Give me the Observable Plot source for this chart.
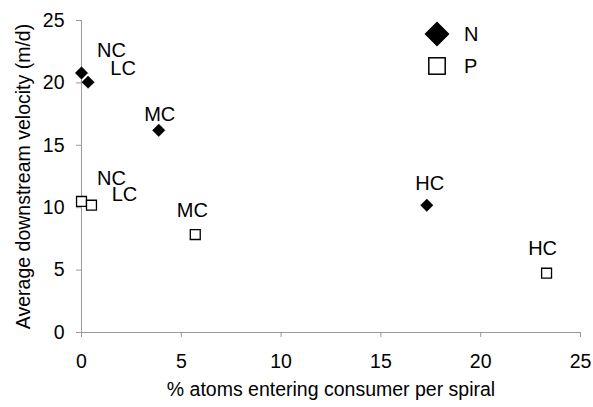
<!DOCTYPE html>
<html>
<head>
<meta charset="utf-8">
<script src="https://cdn.jsdelivr.net/npm/d3@7"></script>
<script src="https://cdn.jsdelivr.net/npm/@observablehq/plot@0.6"></script>
<style>
  html, body { margin: 0; padding: 0; background: #fff; }
  #wrap { position: relative; width: 593px; height: 407px; font-family: "Liberation Sans", Arial, sans-serif; }
  #legend { position: absolute; left: 0; top: 0; pointer-events: none; }
</style>
</head>
<body>
<div id="wrap"></div>
<script>
// ---- data ----
const seriesNames = ["N", "P"];
const nX = [0, 0.33, 3.87, 17.3];
const nY = [20.8, 20.06, 16.2, 10.2];
const nLabels = ["NC", "LC", "MC", "HC"];
const pX = [0, 0.5, 5.7, 23.3];
const pY = [10.5, 10.2, 7.85, 4.75];
const pLabels = ["NC", "LC", "MC", "HC"];
const xTicks = [0, 5, 10, 15, 20, 25];
const yTicks = [0, 5, 10, 15, 20, 25];
const xTitle = "% atoms entering consumer per spiral";
const yTitle = "Average downstream velocity (m/d)";

// ---- layout (label offsets in px, not data) ----
const labelOffsets = {
  N: {NC: [30, -22], LC: [35, -14], MC: [1, -16], HC: [3, -22]},
  P: {NC: [30, -23], LC: [33, -11], MC: [-3, -24], HC: [-4, -25]}
};

const nData = nX.map((x, i) => ({x, y: nY[i], label: nLabels[i], s: "N"}));
const pData = pX.map((x, i) => ({x, y: pY[i], label: pLabels[i], s: "P"}));
const withOff = d => ({...d, dx: labelOffsets[d.s][d.label][0], dy: labelOffsets[d.s][d.label][1]});

const labelMarks = [...nData, ...pData].map(withOff).map(d =>
  Plot.text([d], {x: "x", y: "y", text: "label", dx: d.dx, dy: d.dy, fontSize: 20, fill: "#000", textAnchor: "middle"})
);

const axisColor = "#9a9a9a";
const chart = Plot.plot({
  width: 593,
  height: 407,
  marginLeft: 81,
  marginRight: 13,
  marginTop: 20,
  marginBottom: 75,
  style: {fontFamily: "'Liberation Sans', Arial, sans-serif", background: "#fff", overflow: "visible"},
  x: {domain: [0, 25], ticks: xTicks},
  y: {domain: [0, 25], ticks: yTicks},
  marks: [
    Plot.axisX({ticks: xTicks, tickSize: 5, tickPadding: 17, fontSize: 19.5, stroke: axisColor, fill: "#000", label: null}),
    Plot.axisY({ticks: yTicks, tickSize: 5, tickPadding: 12, fontSize: 19.5, stroke: axisColor, fill: "#000", label: null}),
    Plot.ruleY([0], {stroke: axisColor, strokeWidth: 1}),
    Plot.ruleX([0], {stroke: axisColor, strokeWidth: 1}),
    Plot.dot(nData, {x: "x", y: "y", symbol: "diamond2", r: 5.6, fill: "#000", stroke: "#000", strokeWidth: 0.5}),
    Plot.dot(pData, {x: "x", y: "y", symbol: "square", r: 5.6, fill: "#fff", stroke: "#000", strokeWidth: 1.3}),
    ...labelMarks,
    Plot.text([xTitle], {frameAnchor: "bottom", dx: 0, dy: 63, fontSize: 19.5, fill: "#000", textAnchor: "middle"}),
    Plot.text([yTitle], {frameAnchor: "left", dx: -58, rotate: -90, fontSize: 19.5, fill: "#000", textAnchor: "middle"})
  ]
});

const wrap = document.getElementById("wrap");
wrap.appendChild(chart);

// ---- legend overlay ----
const ns = "http://www.w3.org/2000/svg";
const lg = document.createElementNS(ns, "svg");
lg.setAttribute("id", "legend");
lg.setAttribute("width", 593);
lg.setAttribute("height", 407);
const legendRows = [
  {name: seriesNames[0], cy: 34},
  {name: seriesNames[1], cy: 66}
];
legendRows.forEach((row, i) => {
  let sym;
  if (i === 0) {
    sym = document.createElementNS(ns, "path");
    const h = 12.5, cx = 437, cy = row.cy;
    sym.setAttribute("d", `M${cx},${cy - h}L${cx + h},${cy}L${cx},${cy + h}L${cx - h},${cy}Z`);
    sym.setAttribute("fill", "#000");
  } else {
    sym = document.createElementNS(ns, "rect");
    sym.setAttribute("x", 437 - 8.2);
    sym.setAttribute("y", row.cy - 8.2);
    sym.setAttribute("width", 16.4);
    sym.setAttribute("height", 16.4);
    sym.setAttribute("fill", "#fff");
    sym.setAttribute("stroke", "#000");
    sym.setAttribute("stroke-width", 1.5);
  }
  lg.appendChild(sym);
  const t = document.createElementNS(ns, "text");
  t.setAttribute("x", 464);
  t.setAttribute("y", row.cy + 7);
  t.setAttribute("font-size", 20);
  t.setAttribute("font-family", "'Liberation Sans', Arial, sans-serif");
  t.textContent = row.name;
  lg.appendChild(t);
});
wrap.appendChild(lg);
</script>
</body>
</html>
